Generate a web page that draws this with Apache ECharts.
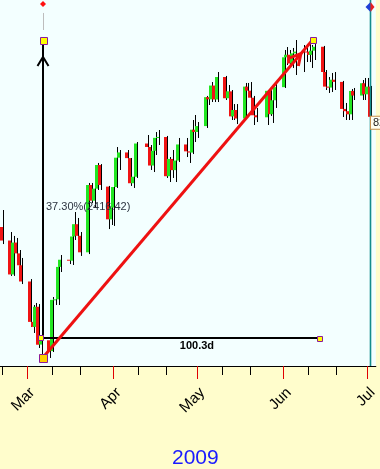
<!DOCTYPE html>
<html><head><meta charset="utf-8">
<script src="https://cdn.jsdelivr.net/npm/echarts@6/dist/echarts.min.js"></script>
<style>html,body{margin:0;padding:0;background:#FFFDCC}#c{width:380px;height:469px}</style>
</head><body><div id="c"></div>
<script>
// ---- data ----
const dates = ['2009-02-20','2009-02-23','2009-02-24','2009-02-25','2009-02-26','2009-02-27',
'2009-03-02','2009-03-03','2009-03-04','2009-03-05','2009-03-06','2009-03-09','2009-03-10','2009-03-11','2009-03-12','2009-03-13','2009-03-16','2009-03-17','2009-03-18','2009-03-19','2009-03-20','2009-03-23','2009-03-24','2009-03-25','2009-03-26','2009-03-27','2009-03-30','2009-03-31',
'2009-04-01','2009-04-02','2009-04-03','2009-04-06','2009-04-07','2009-04-08','2009-04-09','2009-04-13','2009-04-14','2009-04-15','2009-04-16','2009-04-17','2009-04-20','2009-04-21','2009-04-22','2009-04-23','2009-04-24','2009-04-27','2009-04-28','2009-04-29','2009-04-30',
'2009-05-01','2009-05-04','2009-05-05','2009-05-06','2009-05-07','2009-05-08','2009-05-11','2009-05-12','2009-05-13','2009-05-14','2009-05-15','2009-05-18','2009-05-19','2009-05-20','2009-05-21','2009-05-22','2009-05-26','2009-05-27','2009-05-28','2009-05-29',
'2009-06-01','2009-06-02','2009-06-03','2009-06-04','2009-06-05','2009-06-08','2009-06-09','2009-06-10','2009-06-11','2009-06-12','2009-06-15','2009-06-16','2009-06-17','2009-06-18','2009-06-19','2009-06-22','2009-06-23','2009-06-24','2009-06-25','2009-06-26','2009-06-29','2009-06-30',
'2009-07-01','2009-07-02'];
const opens = [7465,7365,7114,7350,7270,7182,
7062,6763,6726,6875,6595,6627,6547,6926,6930,7170,7223,7216,7395,7486,7400,7278,7776,7660,7749,7924,7764,7522,
7609,7761,7978,8017,7975,7789,7837,8083,8057,7920,8029,8125,8131,7841,7969,7886,7957,8076,8025,8016,8185,
8168,8212,8426,8410,8512,8409,8575,8418,8469,8284,8331,8268,8504,8474,8422,8292,8277,8473,8300,8403,
8500,8721,8740,8675,8750,8763,8764,8763,8739,8770,8799,8612,8504,8497,8555,8539,8339,8322,8299,8472,8438,8529,
8447,8504];
const highs = [7591,7428,7399,7384,7295,7236,
7080,6888,6903,6895,6762,6718,6947,7029,7191,7258,7369,7406,7576,7532,7428,7791,7791,7872,7939,7931,7769,7717,
7769,8057,8035,8035,7976,7887,8094,8146,8072,8050,8168,8183,8139,7983,8035,7983,8124,8124,8087,8257,8294,
8242,8435,8501,8538,8553,8612,8583,8516,8479,8375,8375,8531,8531,8538,8435,8346,8479,8486,8479,8531,
8775,8797,8775,8790,8849,8812,8819,8849,8812,8819,8805,8627,8575,8605,8612,8546,8383,8427,8486,8494,8553,8568,
8568,8509];
const lows = [7339,7103,7103,7236,7147,7043,
6725,6681,6703,6570,6474,6496,6540,6888,6888,7132,7191,7184,7369,7369,7251,7265,7643,7613,7739,7739,7450,7480,
7473,7754,7887,7850,7769,7754,7828,8020,7887,7872,7998,8072,7828,7798,7828,7798,7946,7983,7939,8005,8094,
8124,8198,8368,8390,8390,8390,8405,8390,8257,8257,8227,8264,8427,8361,8220,8242,8220,8287,8235,8346,
8494,8664,8657,8642,8590,8612,8686,8686,8642,8701,8560,8479,8457,8464,8479,8279,8257,8257,8257,8405,8405,8405,
8427,8272];
const closes = [7365,7114,7350,7270,7182,7062,
6763,6726,6875,6594,6627,6547,6926,6930,7170,7223,7216,7395,7486,7400,7278,7776,7660,7749,7924,7776,7522,7609,
7761,7978,8017,7975,7789,7837,8083,8057,7920,8029,8125,8131,7841,7969,7886,7957,8076,8025,8016,8185,8168,
8212,8426,8410,8512,8409,8575,8418,8469,8284,8331,8268,8504,8474,8422,8292,8277,8473,8300,8403,8500,
8721,8740,8675,8750,8763,8764,8763,8739,8770,8799,8612,8504,8497,8555,8539,8339,8322,8299,8472,8438,8529,8447,
8504,8280.74];

const monthTicks = ['2009-03-01','2009-04-01','2009-05-01','2009-06-01','2009-07-01'];
const monthLabels = ['Mar','Apr','May','Jun','Jul'];
const minorTicks = ['2009-02-20','2009-03-10','2009-03-20','2009-04-10','2009-04-20','2009-05-10','2009-05-20','2009-06-10','2009-06-20'];
const yearLabel = '2009';
const xRange = ['2009-02-19T07:41','2009-07-04T01:41'];
const yRange = [6436.6, 9145];

// annotation anchors (date, price)
const measureStart = ['2009-03-06T20:00', 6644];
const measureTop   = ['2009-03-06T20:00', 8849];
const measureEnd   = ['2009-06-13T21:00', 6644];
const trendStart   = ['2009-03-06T14:00', 6496];
const trendEnd     = ['2009-06-11T09:00', 8849];
const pctLabel  = ['37.30%(2416.42)', '2009-03-06T20:00', 7613];
const daysLabel = ['100.3d', '2009-04-30T22:00', 6585];
const guidePrices = [8923, 9049, 9115];   // grey guide from / to, red marker
const cursorDate = '2009-07-02';
const cursorMarkerPrice = 9093;

function ts(s){ return Date.parse(s.length === 10 ? s + 'T00:00:00Z' : s + ':00Z'); }

const FONT = 'Liberation Sans, Arial, sans-serif';
const GREEN = '#22E622', RED = '#F01414';

const chart = echarts.init(document.getElementById('c'), null, {renderer:'canvas'});

const candleData = dates.map((d,i)=>[ts(d), opens[i], highs[i], lows[i], closes[i]]);

function candleItem(params, api){
  const t = api.value(0), o = api.value(1), h = api.value(2), l = api.value(3), c = api.value(4);
  const po = api.coord([t,o]), pc = api.coord([t,c]), ph = api.coord([t,h]), pl = api.coord([t,l]);
  const x = Math.round(po[0]);
  const top = Math.min(po[1], pc[1]), bot = Math.max(po[1], pc[1]);
  return {type:'group', children:[
    {type:'line', shape:{x1:x+1.5, y1:ph[1], x2:x+1.5, y2:pl[1]}, style:{stroke:'#000', lineWidth:1}},
    {type:'rect', shape:{x:x-2, y:top, width:3, height:Math.max(bot-top,1)}, style:{fill: c >= o ? GREEN : RED}}
  ]};
}

function annoItem(params, api){
  const P = (d,p)=>api.coord([ts(d), p]);
  const a = P(measureStart[0], measureStart[1]);
  const b = P(measureTop[0], measureTop[1]);
  const c = P(measureEnd[0], measureEnd[1]);
  const s = P(trendStart[0], trendStart[1]);
  const e = P(trendEnd[0], trendEnd[1]);
  const mx = Math.round(a[0]);
  const ch = [];
  const head = (tip, dir, len, spread) => {
    const bx = tip[0]-dir[0]*len, by = tip[1]-dir[1]*len, px = -dir[1], py = dir[0];
    return [[bx+px*spread, by+py*spread], tip, [bx-px*spread, by-py*spread]];
  };
  // grey guide + red marker
  const g1 = P(measureTop[0], guidePrices[0]), g2 = P(measureTop[0], guidePrices[1]), rm = P(measureTop[0], guidePrices[2]);
  ch.push({type:'line', shape:{x1:mx+0.5, y1:g1[1], x2:mx+0.5, y2:g2[1]}, style:{stroke:'#bdbdbd', lineWidth:1}});
  ch.push({type:'polygon', shape:{points:[[mx,rm[1]-3],[mx+3,rm[1]],[mx,rm[1]+3],[mx-3,rm[1]]]}, style:{fill:'#ff1010'}});
  // vertical measure
  ch.push({type:'line', shape:{x1:mx, y1:a[1], x2:mx, y2:b[1]}, style:{stroke:'#000', lineWidth:2}});
  const vt = [mx, b[1]+17];
  ch.push({type:'polyline', shape:{points:head(vt,[0,-1],9,5.5)}, style:{stroke:'#000', lineWidth:2, fill:null}});
  // horizontal measure
  ch.push({type:'line', shape:{x1:mx, y1:a[1], x2:c[0], y2:c[1]}, style:{stroke:'#000', lineWidth:2}});
  // trend arrow
  ch.push({type:'line', shape:{x1:s[0], y1:s[1], x2:e[0], y2:e[1]}, style:{stroke:'#EE1111', lineWidth:3}});
  const L = Math.hypot(e[0]-s[0], e[1]-s[1]);
  const dir = [(e[0]-s[0])/L, (e[1]-s[1])/L];
  const tt = [e[0]-dir[0]*18, e[1]-dir[1]*18];
  ch.push({type:'polyline', shape:{points:head(tt,dir,11,6)}, style:{stroke:'#EE1111', lineWidth:3, fill:null}});
  // handles
  const sq = (cx, cy, sz, fill) => ({type:'rect', shape:{x:Math.round(cx-sz/2)+0.5, y:Math.round(cy-sz/2)+0.5, width:sz, height:sz}, style:{fill:fill, stroke:'#8B1A9B', lineWidth:1}});
  ch.push(sq(mx, b[1], 7, '#FFFF00'));
  ch.push(sq(mx-3, a[1], 5, '#FFFF00'));
  ch.push(sq(c[0], c[1]+1, 5, '#FFFF00'));
  ch.push(sq(s[0], s[1], 8, '#FFD000'));
  ch.push(sq(e[0], e[1], 6, '#FFFF00'));
  // labels
  const pl = P(pctLabel[1], pctLabel[2]);
  ch.push({type:'text', x:mx+3, y:pl[1], style:{text:pctLabel[0], fill:'#2c3440', font:'11px '+FONT, align:'left', verticalAlign:'middle', textAlign:'left', textVerticalAlign:'middle'}});
  const dl = P(daysLabel[1], daysLabel[2]);
  ch.push({type:'text', x:dl[0], y:dl[1], style:{text:daysLabel[0], fill:'#000', font:'bold 11px '+FONT, align:'center', verticalAlign:'middle', textAlign:'center', textVerticalAlign:'middle'}});
  // cursor line, marker and last price tag
  const cu = P(cursorDate, yRange[1]), cb = P(cursorDate, yRange[0]), cm = P(cursorDate, cursorMarkerPrice);
  const cx = Math.round(cu[0]);
  ch.push({type:'line', shape:{x1:cx+0.5, y1:cu[1], x2:cx+0.5, y2:cb[1]}, style:{stroke:'#138C8C', lineWidth:1.6}});
  ch.push({type:'polygon', shape:{points:[[cx+0.5,cm[1]-5],[cx+0.5,cm[1]+5],[cx-4.5,cm[1]]]}, style:{fill:'#1f3fd6'}});
  ch.push({type:'polygon', shape:{points:[[cx+0.5,cm[1]-5],[cx+0.5,cm[1]+5],[cx+4.5,cm[1]]]}, style:{fill:'#e82020'}});
  const lc = P(cursorDate, closes[closes.length-1]);
  ch.push({type:'text', x:cx+1, y:lc[1], style:{text:closes[closes.length-1].toFixed(2), fill:'#222', font:'11px '+FONT, align:'left', verticalAlign:'top', textAlign:'left', textVerticalAlign:'top', backgroundColor:'#FFFFF2', borderColor:'#C8904A', borderWidth:1, padding:[1,2,0,2]}});
  return {type:'group', children:ch};
}

const tickFmt = v => { const i = monthTicks.findIndex(m => Math.abs(ts(m)-v) < 3600e3); return i >= 0 ? monthLabels[i] : ''; };

chart.setOption({
  animation:false,
  backgroundColor:'#FFFDCC',
  title:{text:yearLabel, left:167, top:443, padding:5, textStyle:{color:'#1a1aff', fontSize:21, fontWeight:'normal', fontFamily:FONT}},
  grid:{left:0, right:0, top:0, bottom:103, show:true, backgroundColor:'#F3FFFF', borderWidth:0, containLabel:false},
  xAxis:[
    {type:'value', min:ts(xRange[0]), max:ts(xRange[1]), position:'bottom', scale:true,
     axisLine:{show:true, onZero:false, lineStyle:{color:'#000', width:1}},
     axisTick:{show:true, customValues:monthTicks.map(ts), length:13, lineStyle:{color:'#E00000', width:1}},
     axisLabel:{show:true, customValues:monthTicks.map(ts), rotate:45, margin:19, verticalAlign:'top', fontSize:15, fontFamily:FONT, color:'#000', formatter:tickFmt},
     splitLine:{show:false}},
    {type:'value', min:ts(xRange[0]), max:ts(xRange[1]), position:'bottom', scale:true,
     axisLine:{show:false, onZero:false},
     axisTick:{show:true, customValues:minorTicks.map(ts), length:9, lineStyle:{color:'#000', width:1}},
     axisLabel:{show:false}, splitLine:{show:false}}
  ],
  yAxis:{type:'value', min:yRange[0], max:yRange[1], show:false, splitLine:{show:false}},
  series:[
    {type:'custom', name:'price', xAxisIndex:0, yAxisIndex:0, data:candleData, encode:{x:0, y:[1,2,3,4]}, renderItem:candleItem, clip:true, silent:true, z:2},
    {type:'custom', name:'annotations', xAxisIndex:0, yAxisIndex:0, data:[[ts(measureStart[0]), measureStart[1]]], encode:{x:0, y:1}, renderItem:annoItem, clip:false, silent:true, z:5}
  ]
});
</script></body></html>
